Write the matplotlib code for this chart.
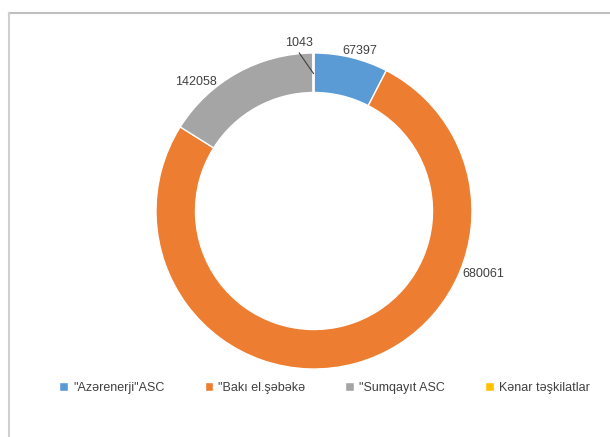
import numpy as np
import matplotlib.pyplot as plt
from matplotlib.lines import Line2D

# -------------------------- 数据 --------------------------
categories = ['"Azərenerji"ASC', '"Bakı el.şəbəkə', '"Sumqayıt ASC', 'Kənar təşkilatlar']
values = [67397, 680061, 142058, 1043]
colors = ['#5B9BD5', '#ED7D31', '#A5A5A5', '#FFC000']

# label placement (angle in degrees, distance in radii)
label_pos = [(80, 1.03, 'left'), (-23, 1.02, 'left'), (127, 1.02, 'right'), (95, 1.07, 'center')]

plt.rcParams['font.family'] = ['Liberation Sans', 'DejaVu Sans']

W, H = 610, 437
fig = plt.figure(figsize=(W / 100, H / 100), dpi=100)

# chart frame (only top and left edges are visible in the crop)
fig.add_artist(Line2D([9 / W, 1.0], [1 - 13 / H, 1 - 13 / H], color='#BFBFBF', lw=1.5))
fig.add_artist(Line2D([9 / W, 9 / W], [0.0, 1 - 13 / H], color='#D0D0D0', lw=1.5))

cx, cy, R, half = 314, 211, 158, 200
ax = fig.add_axes([(cx - half) / W, 1 - (cy + half) / H, 2 * half / W, 2 * half / H])

wedges, _ = ax.pie(values, colors=colors, startangle=90, counterclock=False,
                   radius=1.0, wedgeprops=dict(width=0.25, edgecolor='white', linewidth=1))
ax.set_xlim(-half / R, half / R)
ax.set_ylim(-half / R, half / R)
ax.axis('off')

for v, (ang, d, ha) in zip(values, label_pos):
    a = np.deg2rad(ang)
    ax.text(d * np.cos(a), d * np.sin(a), str(v), ha=ha, va='center',
            fontsize=9, color='#404040')

# leader line for the small slice
w = wedges[3]
mid = np.deg2rad((w.theta1 + w.theta2) / 2)
lx = 1.07 * np.cos(np.deg2rad(95))
ax.plot([lx, 0.87 * np.cos(mid)], [1.0, 0.87 * np.sin(mid)], color='#404040', lw=0.8)

fig.legend(wedges, categories, loc='center', ncol=4, frameon=False,
           bbox_to_anchor=(0.532, 1 - 388 / H), fontsize=9, handlelength=0.7,
           handleheight=0.7, handletextpad=0.4, columnspacing=3.2,
           labelcolor='#404040')

fig.savefig('out.png', dpi=100)
